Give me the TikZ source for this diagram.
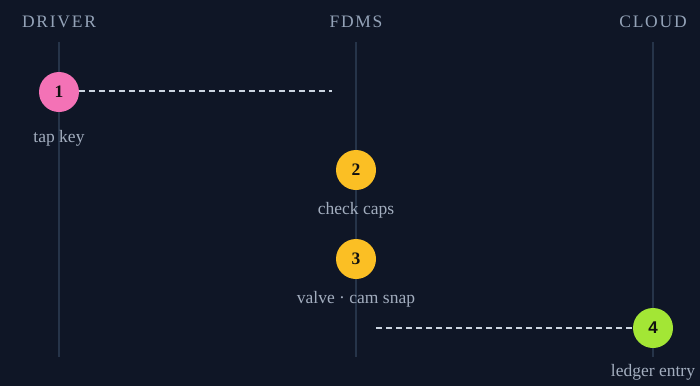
\documentclass[tikz,border=0pt]{standalone}
\usepackage{fontspec}
\setmainfont{Liberation Serif}
\newfontfamily\numsans{Liberation Sans}
\definecolor{bg}{HTML}{0F1626}
\definecolor{lane}{HTML}{263449}
\definecolor{hdr}{HTML}{94A3B8}
\definecolor{lbl}{HTML}{A3AEBF}
\definecolor{dash}{HTML}{CBD5E1}
\definecolor{pinkc}{HTML}{F472B6}
\definecolor{amberc}{HTML}{FBBF24}
\definecolor{limec}{HTML}{A3E635}
\definecolor{ink}{HTML}{111111}
\begin{document}
\begin{tikzpicture}[x=1pt,y=-1pt,
  header/.style={text=hdr,font=\fontsize{17.5}{19}\selectfont\addfontfeatures{LetterSpace=10},anchor=center,inner sep=0},
  laneline/.style={draw=lane,line width=1.3pt},
  stepdot/.style={circle,minimum size=40pt,inner sep=0,font=\fontsize{17.5}{19}\selectfont\bfseries,text=ink},
  steplabel/.style={text=lbl,font=\fontsize{17.5}{19}\selectfont,inner sep=0,anchor=center},
  msg/.style={draw=dash,line width=1.5pt,dash pattern=on 6pt off 4pt}]
\fill[bg] (0,0) rectangle (700,386);
\useasboundingbox (0,0) rectangle (700,386);
\node[header] (hd) at (59,22) {DRIVER};
\node[header] (hf) at (356,22) {FDMS};
\node[header] (hc) at (653,22) {CLOUD};
\coordinate (d0) at (59,42); \coordinate (d1) at (59,357);
\coordinate (f0) at (356,42); \coordinate (f1) at (356,357);
\coordinate (c0) at (653,42); \coordinate (c1) at (653,357);
\draw[laneline] (d0) -- (d1);
\draw[laneline] (f0) -- (f1);
\draw[laneline] (c0) -- (c1);
\node[stepdot,fill=pinkc] (s1) at (59,92) {1};
\node[stepdot,fill=amberc] (s2) at (356,170) {2};
\node[stepdot,fill=amberc] (s3) at (356,259) {3};
\node[stepdot,fill=limec,font=\fontsize{17}{19}\selectfont\numsans\bfseries] (s4) at (653,328) {4};
\node[steplabel] (l1) at (59,138) {tap key};
\node[steplabel] (l2) at (356,210) {check caps};
\node[steplabel] (l3) at (356,299) {valve · cam snap};
\node[steplabel] (l4) at (653,372) {ledger entry};
\coordinate (e1) at (332,91);
\coordinate (e2) at (376,328);
\draw[msg] (s1.east |- e1) -- (e1);
\draw[msg] (e2) -- (s4.west);
\end{tikzpicture}
\end{document}
